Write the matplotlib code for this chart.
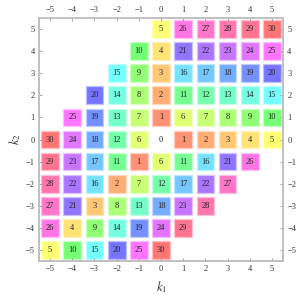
import colorsys
import matplotlib.pyplot as plt
from matplotlib.patches import Rectangle

plt.rcParams['font.family'] = ['Liberation Serif', 'DejaVu Serif']
plt.rcParams['mathtext.fontset'] = 'stix'

k1_vals = [-5, -4, -3, -2, -1, 0, 1, 2, 3, 4, 5]
k2_vals = [5, 4, 3, 2, 1, 0, -1, -2, -3, -4, -5]

# one row per k2 (top to bottom), one entry per k1 (left to right); None = empty
grid = [
    [None, None, None, None, None, 5, 26, 27, 28, 29, 30],
    [None, None, None, None, 10, 4, 21, 22, 23, 24, 25],
    [None, None, None, 15, 9, 3, 16, 17, 18, 19, 20],
    [None, None, 20, 14, 8, 2, 11, 12, 13, 14, 15],
    [None, 25, 19, 13, 7, 1, 6, 7, 8, 9, 10],
    [30, 24, 18, 12, 6, 0, 1, 2, 3, 4, 5],
    [29, 23, 17, 11, 1, 6, 11, 16, 21, 26, None],
    [28, 22, 16, 2, 7, 12, 17, 22, 27, None, None],
    [27, 21, 3, 8, 13, 18, 23, 28, None, None, None],
    [26, 4, 9, 14, 19, 24, 29, None, None, None, None],
    [5, 10, 15, 20, 25, 30, None, None, None, None, None],
]
n_max = 30


def cell_color(n, s=0.54):
    return colorsys.hsv_to_rgb((n / n_max) % 1.0, s, 1.0)


fig = plt.figure(figsize=(3.05, 2.95), dpi=100)
ax = fig.add_axes([0.128, 0.115, 0.8, 0.824])

side = 0.8
for row, k2 in zip(grid, k2_vals):
    for val, k1 in zip(row, k1_vals):
        if val is None:
            continue
        if val != 0:
            ax.add_patch(Rectangle((k1 - side / 2, k2 - side / 2), side, side,
                                   facecolor=cell_color(val),
                                   edgecolor=cell_color(val, 0.25),
                                   linewidth=0.9))
        ax.text(k1, k2, str(val), ha='center', va='center',
                fontsize=6, color='#222222')

ax.set_xlim(-5.5, 5.5)
ax.set_ylim(-5.5, 5.5)
ax.set_xticks(k1_vals)
ax.set_yticks(k2_vals)
ax.set_xticklabels(['\u2212%d' % -v if v < 0 else str(v) for v in k1_vals])
ax.set_yticklabels(['\u2212%d' % -v if v < 0 else str(v) for v in k2_vals])
ax.tick_params(direction='in', length=2.5, width=0.6, color='#999999',
               labelsize=6, labelcolor='#333333', pad=3,
               top=True, right=True, labeltop=True, labelright=True)
for sp in ax.spines.values():
    sp.set_color('#bbbbbb')
    sp.set_linewidth(1.3)

ax.set_xlabel('$k_1$', fontsize=9, color='#333333', labelpad=4)
ax.set_ylabel('$k_2$', fontsize=9, color='#333333', labelpad=2)

fig.savefig('out.png', dpi=100)
